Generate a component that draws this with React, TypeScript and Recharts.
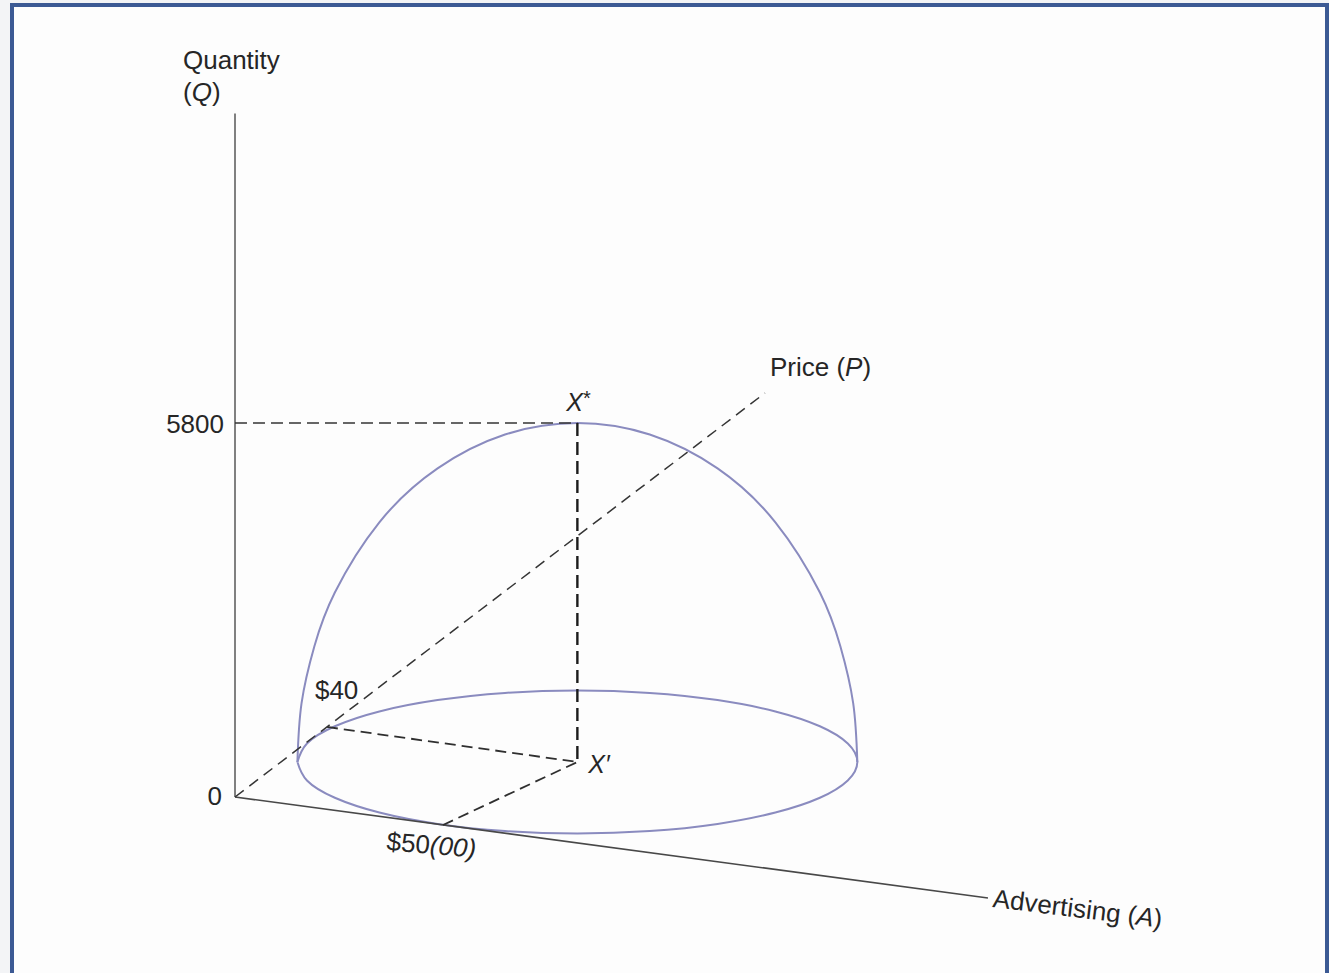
import React from "react";
import { ComposedChart, Line, XAxis, YAxis, ReferenceDot } from "recharts";

// diagram coordinates: x = horizontal position (advertising units), y = quantity
const quantityAxis = [
  { x: 0, y: 0 },
  { x: 0, y: 10600 },
];
const advertisingAxis = [
  { x: 0, y: 0 },
  { x: 181, y: -1566 },
];
const priceAxis = [
  { x: 0, y: 0 },
  { x: 127.4, y: 6265 },
];

const peak = { x: 82.3, y: 5800 }; // X*
const base = { x: 82.3, y: 543 }; // X'
const priceMark = { x: 22.1, y: 1086 }; // $40 on the price axis
const adMark = { x: 50, y: -434 }; // $50(00) on the advertising axis

const peakLevel = [
  { x: 0, y: 5800 },
  peak,
];
const peakDrop = [peak, base];
const priceToBase = [priceMark, base];
const adToBase = [adMark, base];

const domeOutline = [
  { x: 15.0, y: 543 },
  { x: 16.0, y: 1455 },
  { x: 19.1, y: 2341 },
  { x: 24.0, y: 3171 },
  { x: 34.7, y: 4260 },
  { x: 48.7, y: 5096 },
  { x: 64.9, y: 5621 },
  { x: 82.3, y: 5800 },
  { x: 99.7, y: 5621 },
  { x: 116.0, y: 5096 },
  { x: 129.9, y: 4260 },
  { x: 140.6, y: 3171 },
  { x: 145.5, y: 2341 },
  { x: 148.6, y: 1455 },
  { x: 149.6, y: 543 },
];

const baseOutline = [
  { x: 15.0, y: 543 },
  { x: 17.3, y: 256 },
  { x: 24.0, y: -12 },
  { x: 34.7, y: -241 },
  { x: 48.7, y: -417 },
  { x: 64.9, y: -528 },
  { x: 82.3, y: -566 },
  { x: 99.7, y: -528 },
  { x: 116.0, y: -417 },
  { x: 129.9, y: -241 },
  { x: 140.6, y: -12 },
  { x: 147.3, y: 256 },
  { x: 149.6, y: 543 },
  { x: 147.3, y: 830 },
  { x: 140.6, y: 1097 },
  { x: 129.9, y: 1327 },
  { x: 116.0, y: 1503 },
  { x: 99.7, y: 1614 },
  { x: 82.3, y: 1652 },
  { x: 64.9, y: 1614 },
  { x: 48.7, y: 1503 },
  { x: 34.7, y: 1327 },
  { x: 24.0, y: 1097 },
  { x: 17.3, y: 830 },
  { x: 15.0, y: 543 },
];

const FONT = "'Liberation Sans', Arial, Helvetica, sans-serif";
const INK = "#262626";
const DOME = "#8a8bbf";

const Tag = ({ viewBox, dx = 0, dy = 0, anchor = "start", rotate = 0, size = 26, txt }: any) => {
  const x = viewBox.x + dx;
  const y = viewBox.y + dy;
  return (
    <text
      x={x}
      y={y}
      textAnchor={anchor}
      fontFamily={FONT}
      fontSize={size}
      fill={INK}
      transform={rotate ? `rotate(${rotate} ${x} ${y})` : undefined}
    >
      {txt}
    </text>
  );
};

const seg = (data: any[], stroke: string, width: number, dash?: string, type: any = "linear") => (
  <Line
    data={data}
    dataKey="y"
    type={type}
    stroke={stroke}
    strokeWidth={width}
    strokeDasharray={dash}
    dot={false}
    activeDot={false}
    legendType="none"
    isAnimationActive={false}
  />
);

const App = () => {
  return (
    <div style={{ position: "absolute", left: 0, top: 0, width: 1329, height: 973, overflow: "hidden", background: "#f3f4f6" }}>
      <div
        style={{
          position: "absolute",
          left: 10,
          top: 3,
          width: 1319,
          height: 1100,
          boxSizing: "border-box",
          border: "4px solid #3c5a94",
          background: "#fdfdfd",
        }}
      />
      <div style={{ position: "absolute", left: 0, top: 0 }}>
        <ComposedChart width={1329} height={973} margin={{ top: 0, right: 0, bottom: 0, left: 0 }}>
          <XAxis type="number" dataKey="x" domain={[-56.49, 262.98]} hide />
          <YAxis type="number" domain={[-2729.4, 12360]} hide />
          {seg(baseOutline, DOME, 2, undefined, "natural")}
          {seg(domeOutline, DOME, 2, undefined, "natural")}
          {seg(quantityAxis, "#6a6a6a", 1.7)}
          {seg(advertisingAxis, "#484848", 1.6)}
          {seg(priceAxis, "#353535", 1.5, "11 7")}
          {seg(peakLevel, "#353535", 1.6, "12 6")}
          {seg(peakDrop, "#1c1c1c", 2.4, "13 6")}
          {seg(priceToBase, "#2f2f2f", 1.8, "11 6")}
          {seg(adToBase, "#2f2f2f", 1.8, "11 6")}

          <ReferenceDot x={0} y={10600} r={0} stroke="none" fill="none" label={<Tag dx={-52} dy={-44.5} txt="Quantity" />} />
          <ReferenceDot
            x={0}
            y={10600}
            r={0}
            stroke="none"
            fill="none"
            label={<Tag dx={-52} dy={-12.5} txt={<>(<tspan fontStyle="italic">Q</tspan>)</>} />}
          />
          <ReferenceDot x={0} y={5800} r={0} stroke="none" fill="none" label={<Tag dx={-11} dy={10} anchor="end" txt="5800" />} />
          <ReferenceDot x={0} y={0} r={0} stroke="none" fill="none" label={<Tag dx={-13} dy={8} anchor="end" txt="0" />} />
          <ReferenceDot
            x={peak.x}
            y={peak.y}
            r={0}
            stroke="none"
            fill="none"
            label={<Tag dx={-11} dy={-12} size={25} txt={<><tspan fontStyle="italic">X</tspan><tspan fontSize={20} dy={-6}>*</tspan></>} />}
          />
          <ReferenceDot
            x={priceAxis[1].x}
            y={priceAxis[1].y}
            r={0}
            stroke="none"
            fill="none"
            label={<Tag dx={5} dy={-17} txt={<>Price (<tspan fontStyle="italic">P</tspan>)</>} />}
          />
          <ReferenceDot x={priceMark.x} y={priceMark.y} r={0} stroke="none" fill="none" label={<Tag dx={-12} dy={-28} txt="$40" />} />
          <ReferenceDot
            x={base.x}
            y={base.y}
            r={0}
            stroke="none"
            fill="none"
            label={<Tag dx={11} dy={11} size={25} txt={<tspan fontStyle="italic">X′</tspan>} />}
          />
          <ReferenceDot
            x={adMark.x}
            y={adMark.y}
            r={0}
            stroke="none"
            fill="none"
            label={<Tag dx={-57} dy={25} rotate={5} txt={<>$50<tspan fontStyle="italic">(00)</tspan></>} />}
          />
          <ReferenceDot
            x={advertisingAxis[1].x}
            y={advertisingAxis[1].y}
            r={0}
            stroke="none"
            fill="none"
            label={<Tag dx={4} dy={9} rotate={7} txt={<>Advertising (<tspan fontStyle="italic">A</tspan>)</>} />}
          />
        </ComposedChart>
      </div>
    </div>
  );
};

export default App;
